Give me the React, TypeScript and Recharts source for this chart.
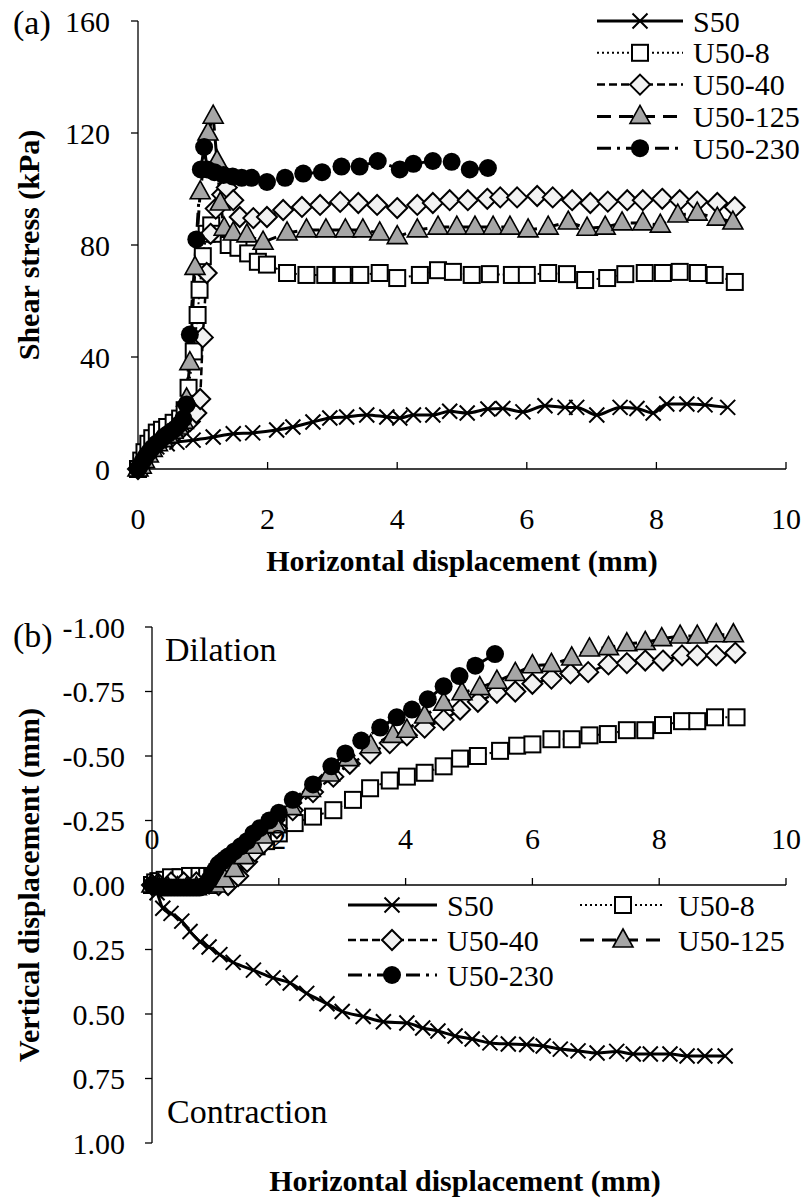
import React from 'react'
import { LineChart, Line, XAxis, YAxis, ReferenceLine, Customized } from 'recharts'

type Pt = [number, number]

const FONT = '"Liberation Serif", "Times New Roman", serif'

const X_TICKS = [0, 2, 4, 6, 8, 10]
const SHEAR_TICKS = [0, 40, 80, 120, 160]
const VERT_TICKS = [-1, -0.75, -0.5, -0.25, 0, 0.25, 0.5, 0.75, 1]
const SERIES_NAMES = ['S50', 'U50-8', 'U50-40', 'U50-125', 'U50-230']

// (a) shear stress (kPa) vs horizontal displacement (mm)
const shearS50: Pt[] = [
  [0, 0], [0.08, 3], [0.16, 5.5], [0.29, 7.9], [0.45, 9], [0.6, 9.6], [0.85, 10.3], [1.16, 11.4],
  [1.47, 12.6], [1.77, 12.9], [2.14, 13.9], [2.39, 15], [2.7, 16.8], [2.96, 18.2], [3.22, 18.6],
  [3.53, 19.3], [3.84, 18.6], [4.04, 18.2], [4.25, 19.3], [4.55, 19.3], [4.81, 20.6], [5.08, 20],
  [5.4, 21.4], [5.63, 21.6], [5.94, 20.4], [6.28, 22.6], [6.59, 22], [6.77, 22], [7.08, 19.3],
  [7.44, 22], [7.7, 21.6], [7.95, 20], [8.16, 23.2], [8.47, 23.2], [8.75, 22.9], [9.1, 22],
]
const shearU8: Pt[] = [
  [0, 0], [0.05, 3], [0.1, 6], [0.16, 9], [0.22, 11], [0.29, 13], [0.37, 14], [0.45, 15],
  [0.55, 16.5], [0.65, 18], [0.72, 21], [0.78, 29], [0.86, 42], [0.92, 55], [0.95, 64], [1.0, 76],
  [1.06, 84], [1.13, 87], [1.25, 84], [1.4, 80], [1.55, 79], [1.7, 77], [1.85, 74], [1.99, 73],
  [2.3, 70], [2.6, 69.3], [2.89, 69.3], [3.16, 69.3], [3.43, 69.3], [3.73, 70], [4.0, 68.2],
  [4.35, 69.3], [4.63, 71], [4.86, 70.4], [5.15, 69.3], [5.43, 69.6], [5.77, 69.3], [6.0, 69.3],
  [6.33, 70], [6.62, 69.6], [6.9, 67.5], [7.24, 68.2], [7.52, 69.6], [7.82, 70], [8.1, 70],
  [8.36, 70.4], [8.64, 70], [8.9, 69.3], [9.21, 66.8],
]
const shearU40: Pt[] = [
  [0, 0], [0.06, 2], [0.12, 4], [0.2, 6], [0.3, 8.5], [0.4, 10.5], [0.5, 12], [0.6, 13.5],
  [0.7, 15], [0.8, 17], [0.9, 20], [0.96, 25], [1.0, 47], [1.06, 70], [1.12, 84], [1.2, 93],
  [1.3, 98], [1.37, 100.5], [1.47, 96], [1.57, 90], [1.78, 89.6], [1.99, 90], [2.24, 92.5],
  [2.53, 93.6], [2.81, 94.3], [3.12, 95.4], [3.4, 95], [3.69, 94.3], [4.0, 93.2], [4.31, 94.3],
  [4.55, 95], [4.81, 96], [5.09, 96], [5.39, 96.5], [5.59, 97], [5.85, 97], [6.16, 97.5],
  [6.4, 97], [6.7, 96], [6.98, 95], [7.25, 95.5], [7.55, 96], [7.79, 96], [8.09, 96.5],
  [8.36, 96], [8.63, 95.5], [8.94, 95], [9.21, 93.5],
]
const shearU125: Pt[] = [
  [0, 0], [0.05, 1], [0.1, 3], [0.16, 5], [0.22, 7], [0.3, 9], [0.38, 10.5], [0.46, 12],
  [0.54, 13.5], [0.62, 15], [0.7, 17], [0.75, 25], [0.8, 38], [0.88, 72], [0.96, 99], [1.08, 120],
  [1.16, 126], [1.22, 110], [1.27, 95], [1.33, 86], [1.47, 84.3], [1.68, 83.6], [1.93, 81],
  [2.3, 84.3], [2.6, 85.4], [2.9, 85.4], [3.2, 85.4], [3.47, 85.4], [3.73, 84.3], [4.0, 83],
  [4.31, 85.4], [4.63, 86.4], [4.92, 86.4], [5.2, 86.4], [5.48, 86.4], [5.74, 86.4], [6.02, 85.4],
  [6.33, 86.4], [6.64, 88.2], [6.93, 86], [7.21, 86.4], [7.47, 87.9], [7.79, 87.9], [8.06, 87.1],
  [8.33, 90.7], [8.63, 91.4], [8.94, 89.6], [9.18, 88.2],
]
const shearU230: Pt[] = [
  [0, 0], [0.04, 1.5], [0.08, 3], [0.12, 4.5], [0.17, 6], [0.22, 7.5], [0.28, 9], [0.34, 10],
  [0.4, 11.5], [0.46, 12.5], [0.52, 13.5], [0.58, 14.5], [0.64, 16], [0.7, 18], [0.75, 23],
  [0.8, 48], [0.9, 82], [0.97, 107], [1.02, 115], [1.07, 107], [1.18, 106], [1.32, 105],
  [1.46, 104.5], [1.6, 104], [1.75, 104], [1.99, 102.5], [2.27, 104], [2.55, 105.5], [2.84, 106],
  [3.14, 108], [3.42, 108], [3.7, 110], [4.04, 107], [4.25, 109], [4.55, 110], [4.84, 109.7],
  [5.12, 107], [5.4, 107.5],
]

// (b) vertical displacement (mm), negative = dilation
const vertS50: Pt[] = [
  [0, 0], [0.08, 0.03], [0.17, 0.09], [0.3, 0.11], [0.47, 0.14], [0.6, 0.18], [0.76, 0.22],
  [0.9, 0.24], [1.07, 0.27], [1.28, 0.3], [1.6, 0.33], [1.91, 0.36], [2.18, 0.38], [2.44, 0.42],
  [2.76, 0.46], [3.0, 0.49], [3.33, 0.51], [3.65, 0.53], [4.02, 0.535], [4.27, 0.554],
  [4.51, 0.566], [4.78, 0.585], [5.05, 0.597], [5.33, 0.612], [5.62, 0.616], [5.91, 0.618],
  [6.17, 0.624], [6.44, 0.636], [6.72, 0.643], [7.02, 0.651], [7.33, 0.645], [7.59, 0.655],
  [7.86, 0.655], [8.17, 0.655], [8.44, 0.663], [8.72, 0.663], [9.04, 0.663],
]
const vertU8: Pt[] = [
  [0, 0], [0.05, -0.01], [0.1, -0.015], [0.2, -0.02], [0.3, -0.03], [0.45, -0.03], [0.6, -0.035],
  [0.75, -0.035], [0.87, -0.035], [0.95, -0.03], [1.05, -0.04], [1.2, -0.07], [1.35, -0.1],
  [1.5, -0.13], [1.65, -0.15], [1.8, -0.17], [2.0, -0.2], [2.25, -0.24], [2.54, -0.265],
  [2.86, -0.29], [3.17, -0.33], [3.44, -0.375], [3.75, -0.405], [4.02, -0.42], [4.3, -0.435],
  [4.6, -0.46], [4.86, -0.49], [5.14, -0.5], [5.49, -0.52], [5.76, -0.54], [6.0, -0.545],
  [6.3, -0.565], [6.62, -0.565], [6.9, -0.58], [7.19, -0.585], [7.49, -0.6], [7.78, -0.6],
  [8.06, -0.62], [8.36, -0.635], [8.6, -0.635], [8.88, -0.65], [9.22, -0.65],
]
const vertU40: Pt[] = [
  [0, 0], [0.1, -0.005], [0.3, -0.01], [0.5, -0.01], [0.7, -0.01], [0.9, -0.005], [1.05, 0],
  [1.2, 0], [1.36, -0.035], [1.5, -0.09], [1.62, -0.13], [1.75, -0.16], [1.97, -0.22],
  [2.22, -0.29], [2.54, -0.36], [2.86, -0.42], [3.12, -0.47], [3.44, -0.51], [3.75, -0.55],
  [4.02, -0.58], [4.3, -0.61], [4.6, -0.64], [4.86, -0.68], [5.14, -0.71], [5.44, -0.745],
  [5.73, -0.75], [6.0, -0.78], [6.3, -0.8], [6.6, -0.82], [6.88, -0.825], [7.2, -0.855],
  [7.49, -0.86], [7.78, -0.87], [8.06, -0.87], [8.36, -0.89], [8.6, -0.89], [8.9, -0.89],
  [9.2, -0.9],
]
const vertU125: Pt[] = [
  [0, 0], [0.1, 0.005], [0.25, 0.01], [0.4, 0.01], [0.55, 0.01], [0.7, 0.01], [0.85, 0.005],
  [1.0, 0], [1.15, -0.02], [1.3, -0.06], [1.45, -0.11], [1.6, -0.15], [1.75, -0.19],
  [1.95, -0.23], [2.2, -0.3], [2.5, -0.37], [2.8, -0.43], [3.1, -0.49], [3.45, -0.54],
  [3.8, -0.58], [4.02, -0.6], [4.3, -0.655], [4.6, -0.705], [4.89, -0.745], [5.17, -0.765],
  [5.44, -0.79], [5.73, -0.82], [6.0, -0.85], [6.3, -0.855], [6.62, -0.88], [6.9, -0.915],
  [7.2, -0.92], [7.49, -0.935], [7.78, -0.94], [8.04, -0.955], [8.33, -0.965], [8.6, -0.965],
  [8.9, -0.97], [9.17, -0.97],
]
const vertU230: Pt[] = [
  [0, 0], [0.05, 0.005], [0.1, 0.005], [0.15, 0.01], [0.2, 0.01], [0.25, 0.01], [0.3, 0.01],
  [0.35, 0.01], [0.4, 0.01], [0.45, 0.01], [0.5, 0.01], [0.55, 0.01], [0.6, 0.01], [0.65, 0.01],
  [0.7, 0.01], [0.75, 0.01], [0.8, 0.005], [0.85, 0], [0.9, -0.02], [0.95, -0.04], [1.0, -0.06],
  [1.05, -0.08], [1.1, -0.09], [1.15, -0.1], [1.2, -0.11], [1.3, -0.13], [1.4, -0.15],
  [1.5, -0.17], [1.6, -0.2], [1.7, -0.22], [1.85, -0.25], [2.0, -0.28], [2.22, -0.33],
  [2.54, -0.39], [2.83, -0.46], [3.05, -0.51], [3.3, -0.56], [3.6, -0.61], [3.86, -0.65],
  [4.1, -0.68], [4.35, -0.72], [4.6, -0.77], [4.85, -0.81], [5.1, -0.85], [5.41, -0.895],
]

type MarkerKind = 'cross' | 'square' | 'diamond' | 'triangle' | 'circle'
interface SeriesStyle {
  marker: MarkerKind
  dash?: string
  width: number
  curve: 'monotone' | 'linear'
}

const STYLES: SeriesStyle[] = [
  { marker: 'cross', width: 3, curve: 'monotone' },
  { marker: 'square', dash: '2 3', width: 2, curve: 'linear' },
  { marker: 'diamond', dash: '8 4', width: 2.5, curve: 'linear' },
  { marker: 'triangle', dash: '14 8', width: 3, curve: 'linear' },
  { marker: 'circle', dash: '14 6 3 6', width: 3, curve: 'linear' },
]

const toRows = (pts: Pt[]) => pts.map(([x, y]) => ({ x, y }))

function Marker({ kind, cx, cy }: { kind: MarkerKind; cx: number; cy: number }) {
  if (cx == null || cy == null) return null
  switch (kind) {
    case 'cross':
      return (
        <path
          d={`M${cx - 7.5},${cy - 7.5}L${cx + 7.5},${cy + 7.5}M${cx + 7.5},${cy - 7.5}L${cx - 7.5},${cy + 7.5}`}
          stroke="#000"
          strokeWidth={2}
          fill="none"
        />
      )
    case 'square':
      return <rect x={cx - 8} y={cy - 8} width={16} height={16} fill="#fff" stroke="#000" strokeWidth={2} />
    case 'diamond':
      return (
        <path
          d={`M${cx},${cy - 10}L${cx + 10},${cy}L${cx},${cy + 10}L${cx - 10},${cy}Z`}
          fill="#f2f2f2"
          stroke="#000"
          strokeWidth={2}
        />
      )
    case 'triangle':
      return (
        <path
          d={`M${cx},${cy - 11}L${cx + 10},${cy + 7}L${cx - 10},${cy + 7}Z`}
          fill="#a6a6a6"
          stroke="#000"
          strokeWidth={1.6}
        />
      )
    default:
      return <circle cx={cx} cy={cy} r={9} fill="#000" />
  }
}

// x ticks point into the plot; labels sit at a fixed offset from the axis line
function InwardTick(props: any) {
  const { x, payload, axisY, labelY } = props
  return (
    <g>
      <line x1={x} x2={x} y1={axisY} y2={axisY - 7} stroke="#000" strokeWidth={1.3} />
      <text x={x} y={labelY} textAnchor="middle" dominantBaseline="central" fontSize={30} fontFamily={FONT} fill="#000">
        {payload.value}
      </text>
    </g>
  )
}

function LegendRow({ idx, x1, x2, mx, tx, y }: { idx: number; x1: number; x2: number; mx: number; tx: number; y: number }) {
  const s = STYLES[idx]
  return (
    <g>
      <line x1={x1} x2={x2} y1={y} y2={y} stroke="#000" strokeWidth={s.width} strokeDasharray={s.dash} />
      <Marker kind={s.marker} cx={mx} cy={y} />
      <text x={tx} y={y} dominantBaseline="central" fontSize={30} fontFamily={FONT} fill="#000">
        {SERIES_NAMES[idx]}
      </text>
    </g>
  )
}

function renderSeries(sets: Pt[][], prefix: string) {
  return sets.map((pts, i) => {
    const s = STYLES[i]
    return (
      <Line
        key={`${prefix}-${i}`}
        data={toRows(pts)}
        dataKey="y"
        name={SERIES_NAMES[i]}
        type={s.curve}
        stroke="#000"
        strokeWidth={s.width}
        strokeDasharray={s.dash}
        dot={(p: any) => <Marker key={`${prefix}-${i}-${p.index}`} kind={s.marker} cx={p.cx} cy={p.cy} />}
        activeDot={false}
        isAnimationActive={false}
      />
    )
  })
}

const W = 806
// panel (a) layout
const A_H = 600
const A_TOP = 21
const A_LEFT = 138
const A_BOTTOM = 469
// panel (b) layout
const B_H = 601
const B_TOP = 27
const B_LEFT = 152
const B_BOTTOM = 543
const B_ZERO = (B_TOP + B_BOTTOM) / 2

const titleStyle = { fontFamily: FONT, fontSize: 30, fontWeight: 700 as const, fill: '#000' }

function ShearPanel() {
  return (
    <LineChart width={W} height={A_H} margin={{ top: A_TOP, right: 20, bottom: 0, left: 0 }}>
      <XAxis
        dataKey="x"
        type="number"
        domain={[0, 10]}
        ticks={X_TICKS}
        tickSize={0}
        tickMargin={0}
        tickLine={false}
        height={A_H - A_BOTTOM}
        axisLine={{ stroke: '#000', strokeWidth: 1.3 }}
        tick={<InwardTick axisY={A_BOTTOM} labelY={A_BOTTOM + 49} />}
      />
      <YAxis
        type="number"
        domain={[0, 160]}
        ticks={SHEAR_TICKS}
        width={A_LEFT}
        tickSize={7}
        tickMargin={21}
        axisLine={{ stroke: '#000', strokeWidth: 1.3 }}
        tickLine={{ stroke: '#000', strokeWidth: 1.3 }}
        tick={{ fontSize: 30, fontFamily: FONT, fill: '#000' }}
      />
      {renderSeries([shearS50, shearU8, shearU40, shearU125, shearU230], 'a')}
      <Customized
        component={() => (
          <g>
            <text x={13} y={34} fontSize={34} fontFamily={FONT} fill="#000">(a)</text>
            <text x={462} y={560} textAnchor="middle" dominantBaseline="central" {...titleStyle}>
              Horizontal displacement (mm)
            </text>
            <text
              x={28}
              y={(A_TOP + A_BOTTOM) / 2}
              textAnchor="middle"
              dominantBaseline="central"
              transform={`rotate(-90 28 ${(A_TOP + A_BOTTOM) / 2})`}
              {...titleStyle}
            >
              Shear stress (kPa)
            </text>
            {SERIES_NAMES.map((_, i) => (
              <LegendRow key={i} idx={i} x1={597} x2={683} mx={640} tx={693} y={21 + i * 31.8} />
            ))}
          </g>
        )}
      />
    </LineChart>
  )
}

function VerticalPanel() {
  const legendCells = [
    { col: 0, row: 0 },
    { col: 1, row: 0 },
    { col: 0, row: 1 },
    { col: 1, row: 1 },
    { col: 0, row: 2 },
  ]
  const cols = [
    { x1: 348, x2: 437, mx: 392, tx: 447 },
    { x1: 580, x2: 665, mx: 623, tx: 678 },
  ]
  return (
    <LineChart width={W} height={B_H} margin={{ top: B_TOP, right: 20, bottom: 0, left: 0 }}>
      <XAxis
        dataKey="x"
        type="number"
        domain={[0, 10]}
        ticks={X_TICKS}
        tickSize={0}
        tickMargin={0}
        tickLine={false}
        axisLine={false}
        height={B_H - B_BOTTOM}
        tick={<InwardTick axisY={B_ZERO} labelY={B_ZERO - 47} />}
      />
      <YAxis
        type="number"
        domain={[-1, 1]}
        reversed
        ticks={VERT_TICKS}
        width={B_LEFT}
        tickSize={7}
        tickMargin={20}
        tickFormatter={(v: number) => v.toFixed(2)}
        axisLine={{ stroke: '#000', strokeWidth: 1.3 }}
        tickLine={{ stroke: '#000', strokeWidth: 1.3 }}
        tick={{ fontSize: 30, fontFamily: FONT, fill: '#000' }}
      />
      <ReferenceLine y={0} stroke="#000" strokeWidth={1.3} />
      {renderSeries([vertS50, vertU8, vertU40, vertU125, vertU230], 'b')}
      <Customized
        component={() => (
          <g>
            <text x={13} y={47} fontSize={34} fontFamily={FONT} fill="#000">(b)</text>
            <text x={165} y={61} fontSize={34} fontFamily={FONT} fill="#000">Dilation</text>
            <text x={167} y={523} fontSize={34} fontFamily={FONT} fill="#000">Contraction</text>
            <text x={465} y={580} textAnchor="middle" dominantBaseline="central" {...titleStyle}>
              Horizontal displacement (mm)
            </text>
            <text
              x={28}
              y={B_ZERO}
              textAnchor="middle"
              dominantBaseline="central"
              transform={`rotate(-90 28 ${B_ZERO})`}
              {...titleStyle}
            >
              Vertical displacement (mm)
            </text>
            {legendCells.map((c, i) => (
              <LegendRow key={i} idx={i} {...cols[c.col]} y={305 + c.row * 35} />
            ))}
          </g>
        )}
      />
    </LineChart>
  )
}

export default function App() {
  return (
    <div style={{ position: 'absolute', left: 0, top: 0, width: W, height: 1201, background: '#fff' }}>
      <div style={{ position: 'absolute', left: 0, top: 0 }}>
        <ShearPanel />
      </div>
      <div style={{ position: 'absolute', left: 0, top: 600 }}>
        <VerticalPanel />
      </div>
    </div>
  )
}
